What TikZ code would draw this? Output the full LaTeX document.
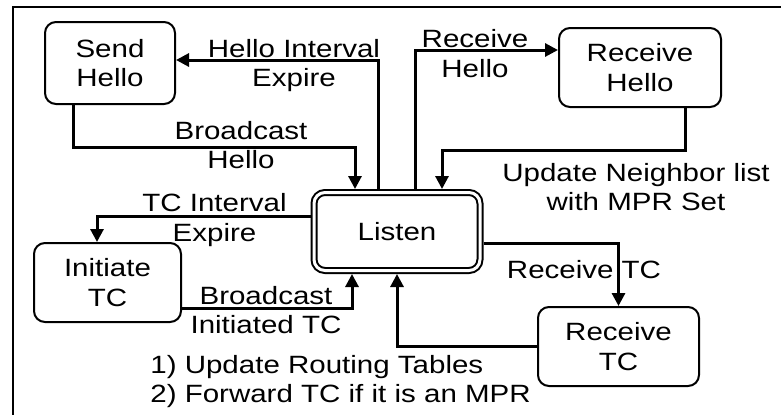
\documentclass[tikz,border=0pt]{standalone}
\usepackage{fontspec}
\setmainfont[FakeStretch=1.18]{Liberation Sans}
\usetikzlibrary{arrows.meta}
\tikzset{
    state/.style={draw, line width=1pt, rounded corners=5.5pt, align=center, inner sep=0pt},
    flow/.style={line width=1.5pt, -{Triangle[length=6.5pt, width=6.5pt]}},
    lbl/.style={align=center, inner sep=0pt},
}
\begin{document}
\begin{tikzpicture}[x=0.5pt, y=-0.5pt, font=\fontsize{12.5}{14.75}\selectfont]
        \useasboundingbox (0, 0) rectangle (781, 414);
        \draw[line width=1pt] (13, 420) -- (13, 7) -- (790, 7);
        % states
        \node[state, minimum width=65pt, minimum height=41pt] (send) at (110, 63) {Send\\Hello};
        \node[state, minimum width=81pt, minimum height=39.5pt] (recvhello) at (640, 67.5) {Receive\\Hello};
        \node[state, double, double distance=1.5pt, minimum width=83pt, minimum height=39pt, outer sep=1.75pt] (listen) at (397, 231.5) {Listen};
        \node[state, minimum width=73.5pt, minimum height=39.5pt] (inittc) at (107.5, 282.5) {Initiate\\TC};
        \node[state, minimum width=80.5pt, minimum height=39.5pt] (recvtc) at (618.5, 346.5) {Receive\\TC};
        % transitions
        \draw[flow] ([xshift=-9.5pt]listen.north) |- ([yshift=1.5pt]send.east);
        \draw[flow] ([xshift=-18.5pt]send.south) -- ++(0, 42) -| ([xshift=-21pt]listen.north);
        \draw[flow] ([xshift=9pt]listen.north) |- ([yshift=8.75pt]recvhello.west);
        \draw[flow] ([xshift=22.5pt]recvhello.south) -- ++(0, 42) -| ([xshift=22.5pt]listen.north);
        \draw[flow] ([yshift=7.75pt]listen.west) -| ([xshift=-5.25pt]inittc.north);
        \draw[flow] ([yshift=-12.75pt]inittc.east) -| ([xshift=-22.5pt]listen.south);
        \draw[flow] ([yshift=-5.75pt]listen.east) -| (recvtc.north);
        \draw[flow] (recvtc.west) -| (listen.south);
        % labels
        \node[lbl] (hellotxt) at (294, 65.5) {Hello Interval\\Expire};
        \node[lbl] (bhellotxt) at (241, 145) {Broadcast\\Hello};
        \node[lbl] (rhellotxt) at (475, 53.5) {Receive\\Hello};
        \node[lbl] (nbrtxt) at (636, 187) {Update Neighbor list\\with MPR Set};
        \node[lbl] (tctxt) at (214.5, 220) {TC Interval\\Expire};
        \node[lbl] (btctxt) at (266, 310) {Broadcast\\Initiated TC};
        \node[lbl, anchor=base] (rtctxt) at (584, 278) {Receive TC};
        \node[lbl, align=left, anchor=west] (routetxt) at (150, 381.5) {1) Update Routing Tables\\2) Forward TC if it is an MPR};
\end{tikzpicture}
\end{document}
